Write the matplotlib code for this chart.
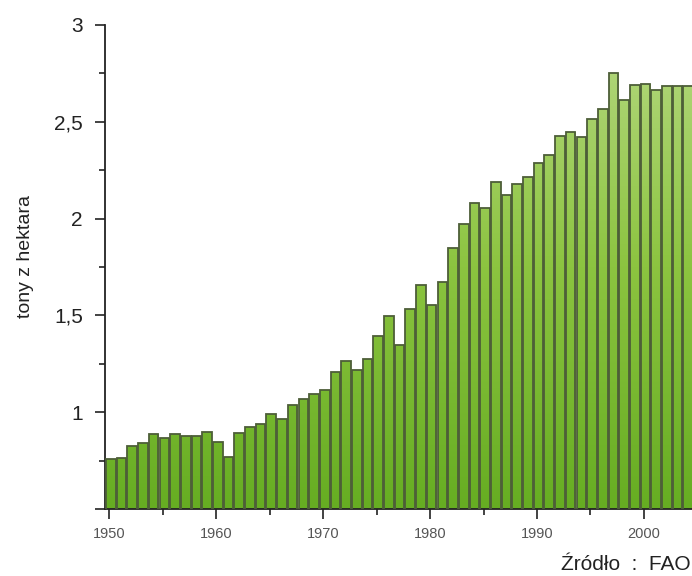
import numpy as np
import matplotlib
matplotlib.use("Agg")
import matplotlib.pyplot as plt
from matplotlib.colors import LinearSegmentedColormap
from matplotlib.ticker import MultipleLocator, FuncFormatter

# plony zbóż na świecie, tony z hektara (FAO)
years = list(range(1950, 2005))
yields = [0.76, 0.765, 0.825, 0.84, 0.885, 0.865, 0.885, 0.878, 0.878, 0.898,
          0.847, 0.768, 0.89, 0.924, 0.937, 0.993, 0.967, 1.038, 1.07, 1.096,
          1.117, 1.208, 1.264, 1.216, 1.273, 1.392, 1.498, 1.349, 1.534, 1.655,
          1.552, 1.672, 1.849, 1.972, 2.081, 2.053, 2.188, 2.12, 2.18, 2.216,
          2.285, 2.328, 2.428, 2.445, 2.424, 2.517, 2.565, 2.754, 2.613, 2.689,
          2.694, 2.665, 2.686, 2.686, 2.686]
ylabel = "tony z hektara"
source = "Źródło  :  FAO"

plt.rcParams['font.family'] = ['Liberation Sans', 'DejaVu Sans']

fig = plt.figure(figsize=(6.92, 5.76), dpi=100)
ax = fig.add_axes([105 / 692, 67 / 576, 1 - 105 / 692, 484 / 576])

bars = ax.bar(np.array(years) + 0.15, yields, width=0.9, bottom=0,
              facecolor='none', edgecolor='#4d5e38', linewidth=1.3, zorder=3)

# pionowy gradient w każdym słupku
cmap = LinearSegmentedColormap.from_list('g', ['#66ad22', '#8cc440', '#b6d982'])
grad = np.linspace(0, 1, 256).reshape(-1, 1)
for b in bars:
    x0, w = b.get_x(), b.get_width()
    im = ax.imshow(grad, extent=(x0, x0 + w, 0.5, 3.0), origin='lower',
                   cmap=cmap, aspect='auto', zorder=2)
    im.set_clip_path(b)

ax.set_xlim(1949.6, 2004.5)
ax.set_ylim(0.5, 3.0)

ax.spines['top'].set_visible(False)
ax.spines['right'].set_visible(False)
ax.spines['left'].set_color('#222222')
ax.spines['bottom'].set_color('#222222')
ax.spines['left'].set_linewidth(1.3)
ax.spines['bottom'].set_linewidth(1.3)

ax.yaxis.set_major_locator(MultipleLocator(0.5))
ax.yaxis.set_minor_locator(MultipleLocator(0.25))
ax.xaxis.set_major_locator(MultipleLocator(10))
ax.xaxis.set_minor_locator(MultipleLocator(5))


def fmt_y(v, pos):
    if v < 0.75:
        return ""
    return ("%g" % v).replace(".", ",")


ax.yaxis.set_major_formatter(FuncFormatter(fmt_y))
ax.tick_params(axis='y', which='major', length=7, width=1.2, pad=9,
               labelsize=15, colors='#222222')
ax.tick_params(axis='y', which='minor', length=4.5, width=1.2, colors='#222222')
ax.tick_params(axis='x', which='major', length=7, width=1.2, pad=6,
               labelsize=10.5, labelcolor='#555555', colors='#222222')
ax.tick_params(axis='x', which='minor', length=4.5, width=1.2, colors='#222222')

fig.text(25 / 692, 1 - 256 / 576, ylabel, rotation=90, ha='center', va='center',
         fontsize=14, color='#222222')
fig.text(1 - 1 / 692, 2 / 576, source, ha='right', va='bottom', fontsize=15,
         color='#222222')

fig.savefig("out.png", dpi=100)
